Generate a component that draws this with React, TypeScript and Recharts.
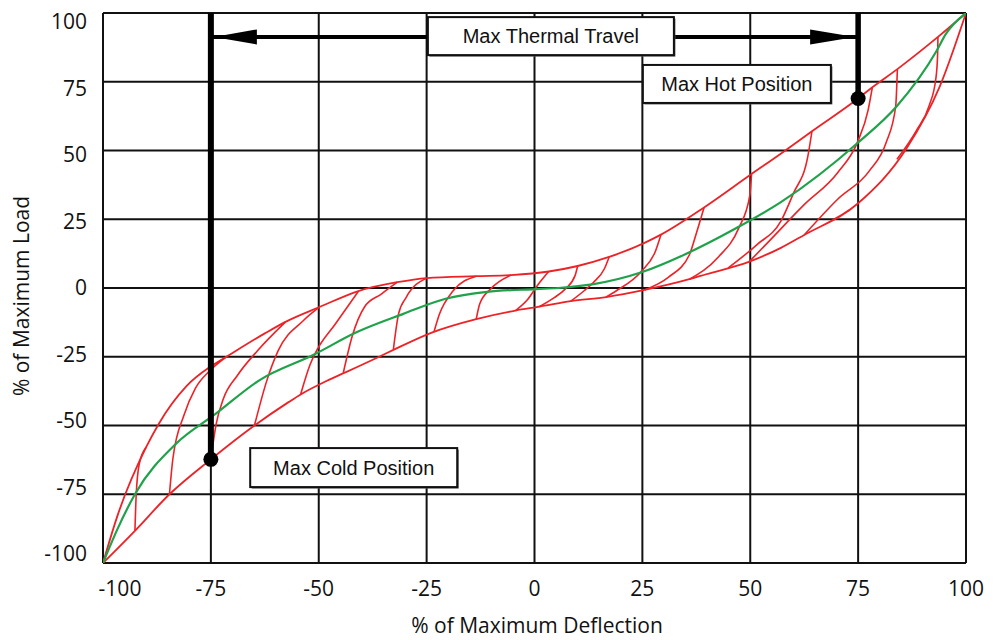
import React from "react";
import { LineChart, Line, XAxis, YAxis, CartesianGrid, ReferenceLine, ReferenceDot, Label } from "recharts";

type Pt = [number, number];

const xTicks = [-100, -75, -50, -25, 0, 25, 50, 75, 100];
const yTicks = [-100, -75, -50, -25, 0, 25, 50, 75, 100];

// upper (loading) envelope
const upperEnvelope: Pt[] = [
  [-100, -100], [-96.6, -82.6], [-90, -57.9], [-87.2, -49.7], [-80.6, -35.6], [-75, -28.5],
  [-71.4, -25], [-62.5, -16.5], [-57.7, -12.3], [-49.8, -6.9], [-40.8, -1.1], [-31.8, 2.1],
  [-25, 3.6], [-13.5, 4.3], [-5.4, 4.7], [3.3, 6.0], [10, 8.0], [17.3, 11.3], [25.5, 16.4],
  [29.3, 19.4], [39.3, 29.3], [49.8, 40.9], [57.4, 49.2], [64.3, 57], [75, 68.9],
  [78.3, 73], [84.1, 79.6], [93.5, 91.3], [100, 100],
];

// lower envelope
const lowerEnvelope: Pt[] = [
  [-100, -100], [-92.6, -88.3], [-84.6, -75], [-75, -62.3], [-64.9, -50], [-57, -41.5],
  [-54.2, -38.7], [-48.2, -33.8], [-43.7, -30.6], [-36, -25], [-32.7, -22.5], [-23.8, -16.2],
  [-13.5, -11.3], [-4.4, -8.2], [1.1, -6.8], [8.4, -4.8], [16.6, -3.3], [25.5, -0.7],
  [35.9, 3.2], [39.8, 5], [49.8, 9.6], [57.1, 14.6], [62.5, 19.3], [75, 30.8], [86.2, 50.7],
  [93.9, 73.2], [100, 100],
];

// mean curve
const meanCurve: Pt[] = [
  [-100, -100], [-96.6, -87.5], [-92.6, -75], [-83, -56.5], [-74, -45.9], [-63.7, -33.5],
  [-51.2, -24.3], [-41.4, -16.2], [-30.4, -9.4], [-20.6, -3.9], [-11, -1.4], [0.4, -0.4],
  [5.5, 0], [13.7, 1.4], [24.8, 5.7], [34.7, 12.1], [46.8, 21.8], [57.1, 31.2], [75, 52.9],
  [83.9, 66], [93.2, 86.3], [95.3, 92.3], [100, 100],
];

// short transition curves between the envelopes
const c1: Pt[] = [[-92.6, -88.3], [-92.3, -75], [-91.6, -64], [-90, -57.9]];
const c2: Pt[] = [[-84.6, -75], [-83.8, -62], [-81.2, -46.1], [-78.6, -36.5], [-75.2, -30], [-71.4, -25]];
const c3: Pt[] = [[-75, -62.3], [-73.8, -49.7], [-72.1, -40.3], [-68.9, -31.9], [-64.2, -22.8], [-57.7, -12.3]];
const c4: Pt[] = [[-64.9, -50], [-62, -33.5], [-59.4, -22.8], [-53.6, -11.9], [-49.8, -6.9]];
const c5: Pt[] = [[-54.2, -38.7], [-52, -27.8], [-50.5, -22.8], [-46.2, -13.2], [-40.8, -1.2]];
const c6: Pt[] = [[-44.3, -30.8], [-42.3, -17.8], [-39.4, -6.9], [-35.5, -2.2], [-31.8, 2.1]];
const c7: Pt[] = [[-32.7, -22.3], [-31.5, -9.4], [-29.7, -3.3], [-25, 3.6]];
const c8: Pt[] = [[-23.3, -16], [-22, -9.4], [-18.9, -1.1], [-13.5, 4.3]];
const c9: Pt[] = [[-13.5, -11.3], [-12.7, -5.8], [-10.2, -0.4], [-5.4, 4.7]];
const c10: Pt[] = [[-4.4, -8.2], [-1.6, -4.2], [0.8, 1.2], [3.3, 6.0]];
const c11: Pt[] = [[1.1, -6.8], [4.5, -3.6], [7.1, -0.4], [9.4, 4.5], [10, 8]];
const c12: Pt[] = [[8.4, -4.8], [11.5, -1], [13.7, 2.1], [16.2, 7], [17.3, 11.3]];
const c13: Pt[] = [[16.6, -3.3], [18.9, -1.1], [24.8, 6.1], [28, 13.3], [29.3, 19.4]];
const c14: Pt[] = [[25.5, -0.7], [31, 3.9], [35.9, 12.1], [37.6, 20.4], [39.3, 29.3]];
const c15: Pt[] = [[35.9, 3.2], [42.5, 11.1], [47.3, 21.7], [49.9, 33.7], [50.3, 41.4]];
const c16: Pt[] = [[44.9, 7.3], [51.5, 15.7], [57.1, 24.3], [60, 34.4], [63.3, 47.5], [64.3, 57]];
const c17: Pt[] = [[49.8, 9.6], [54.1, 16.6], [62.5, 30.3], [70.2, 41.8], [75, 53.6], [77.3, 64.6], [78.3, 73]];
const c18: Pt[] = [[62.5, 19.3], [70.2, 32.2], [77.6, 42.6], [81.5, 52.9], [83.7, 66], [84.1, 79.6]];
const c19: Pt[] = [[84, 46.8], [88.5, 57.2], [91.5, 66.5], [93, 76], [93.4, 84], [93.5, 91.3]];

const transitions = [c1, c2, c3, c4, c5, c6, c7, c8, c9, c10, c11, c12, c13, c14, c15, c16, c17, c18, c19];

// annotation anchors (data units)
const coldPos: Pt = [-75, -62.3];
const hotPos: Pt = [75, 68.9];
const travelY = 91.3;

const RED = "#ED2227";
const GREEN = "#1FA24A";
const FONT = "'Open Sans', 'Noto Sans', sans-serif";
const BOX_FONT = "'Liberation Sans', Arial, sans-serif";

const toPts = (pts: Pt[]) => pts.map(([x, y]) => ({ x, y }));

const YTick = (props: any) => {
  const { x, y, payload } = props;
  const shift = payload.value * 0.09;
  return (
    <text x={x} y={y + shift} dy="0.35em" textAnchor="end" fontSize={21} fontFamily={FONT} fill="#111">
      {payload.value}
    </text>
  );
};

const XTick = (props: any) => {
  const { x, y, payload, index } = props;
  return (
    <text x={x + (index === 0 ? 17 : 0)} y={y} dy="0.71em" textAnchor="middle" fontSize={21} fontFamily={FONT} fill="#111">
      {payload.value}
    </text>
  );
};

const boxShape = (text: string, w: number, h: number) => (props: any) => {
  const { cx, cy } = props;
  return (
    <g>
      <rect x={cx - w / 2 + 1.5} y={cy - h / 2 + 1.5} width={w} height={h} fill="#555" />
      <rect x={cx - w / 2} y={cy - h / 2} width={w} height={h} fill="#fff" stroke="#111" strokeWidth={2} />
      <text x={cx} y={cy} dy="0.36em" textAnchor="middle" fontSize={20} fontFamily={BOX_FONT} fill="#111">
        {text}
      </text>
    </g>
  );
};

const leftHead = (props: any) => {
  const { cx, cy } = props;
  return <polygon points={`${cx + 3},${cy} ${cx + 46},${cy - 7.5} ${cx + 46},${cy + 7.5}`} fill="#000" />;
};

const rightHead = (props: any) => {
  const { cx, cy } = props;
  return <polygon points={`${cx - 3},${cy} ${cx - 48},${cy - 7.5} ${cx - 48},${cy + 7.5}`} fill="#000" />;
};

export default function App() {
  return (
    <LineChart width={982} height={632} margin={{ top: 5, right: 24, left: 0, bottom: 8 }}>
      <CartesianGrid stroke="#111" strokeWidth={2} />
      <XAxis
        type="number"
        dataKey="x"
        domain={[-100, 100]}
        ticks={xTicks}
        allowDataOverflow
        axisLine={false}
        tickLine={false}
        tickSize={0}
        tickMargin={18}
        height={69}
        tick={<XTick />}
        interval={0}
      >
        <Label
          content={() => (
            <text x={529} y={618} dy="0.35em" textAnchor="middle" fontSize={21} fontFamily={FONT} fill="#111">
              % of Maximum Deflection
            </text>
          )}
        />
      </XAxis>
      <YAxis
        type="number"
        domain={[-100, 100]}
        ticks={yTicks}
        allowDataOverflow
        axisLine={false}
        tickLine={false}
        tickSize={0}
        tickMargin={16}
        width={95}
        tick={<YTick />}
        interval={0}
      >
        <Label
          content={() => (
            <text
              x={0}
              y={0}
              transform="translate(14,288) rotate(-90)"
              dy="0.35em"
              textAnchor="middle"
              fontSize={21}
              fontFamily={FONT}
              fill="#111"
            >
              % of Maximum Load
            </text>
          )}
        />
      </YAxis>

      <Line data={toPts(lowerEnvelope)} dataKey="y" type="monotone" stroke={RED} strokeWidth={1.8} dot={false} isAnimationActive={false} />
      <Line data={toPts(upperEnvelope)} dataKey="y" type="monotone" stroke={RED} strokeWidth={1.8} dot={false} isAnimationActive={false} />
      {transitions.map((c, i) => (
        <Line key={i} data={toPts(c)} dataKey="y" type="monotone" stroke={RED} strokeWidth={1.6} dot={false} isAnimationActive={false} />
      ))}
      <Line data={toPts(meanCurve)} dataKey="y" type="monotone" stroke={GREEN} strokeWidth={2.2} dot={false} isAnimationActive={false} />

      <ReferenceLine segment={[{ x: coldPos[0], y: 100 }, { x: coldPos[0], y: coldPos[1] }]} stroke="#000" strokeWidth={6} />
      <ReferenceLine segment={[{ x: hotPos[0], y: 100 }, { x: hotPos[0], y: hotPos[1] }]} stroke="#000" strokeWidth={5.5} />
      <ReferenceLine segment={[{ x: coldPos[0], y: travelY }, { x: hotPos[0], y: travelY }]} stroke="#000" strokeWidth={4} />
      <ReferenceDot x={coldPos[0]} y={travelY} r={1} shape={leftHead} />
      <ReferenceDot x={hotPos[0]} y={travelY} r={1} shape={rightHead} />
      <ReferenceDot x={coldPos[0]} y={coldPos[1]} r={7.5} fill="#000" stroke="none" />
      <ReferenceDot x={hotPos[0]} y={hotPos[1]} r={7.5} fill="#000" stroke="none" />

      <ReferenceDot x={3.8} y={91.6} r={1} shape={boxShape("Max Thermal Travel", 246, 38)} />
      <ReferenceDot x={46.9} y={74.2} r={1} shape={boxShape("Max Hot Position", 188, 38)} />
      <ReferenceDot x={-41.9} y={-65.3} r={1} shape={boxShape("Max Cold Position", 207, 39)} />
    </LineChart>
  );
}
